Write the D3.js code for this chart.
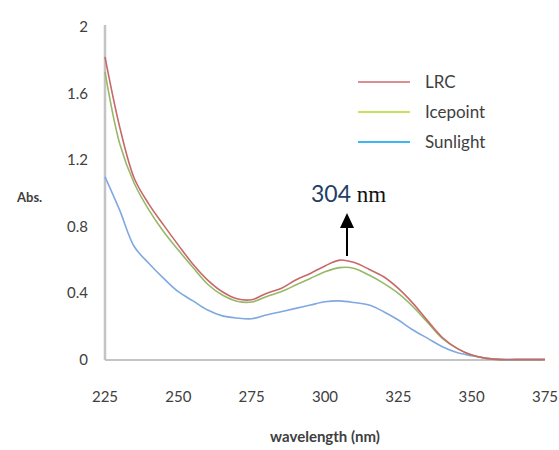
<!DOCTYPE html>
<html>
<head>
<meta charset="utf-8">
<script src="https://cdn.jsdelivr.net/npm/d3@7"></script>
<style>
  body { margin: 0; background: #fff; }
  text { font-family: Lato, "Open Sans", sans-serif; fill: #404040; }
</style>
</head>
<body>
<svg id="chart" width="559" height="450"></svg>
<script>
// wavelength grid (nm) and absorbance readings for each sample
const wavelengths = [225, 230, 235, 240, 245, 250, 255, 260, 265, 270, 275, 280, 285, 290, 295, 300,
  305, 310, 315, 320, 325, 330, 335, 340, 345, 350, 355, 360, 365, 370, 375];
const lrc = [1.82, 1.40, 1.09, 0.935, 0.81, 0.69, 0.575, 0.48, 0.41, 0.368, 0.362, 0.40, 0.43, 0.48, 0.52, 0.565,
  0.60, 0.585, 0.545, 0.50, 0.43, 0.34, 0.235, 0.135, 0.07, 0.03, 0.01, 0.002, 0.002, 0.002, 0.002];
const icepoint = [1.73, 1.30, 1.06, 0.90, 0.77, 0.66, 0.555, 0.455, 0.39, 0.353, 0.348, 0.38, 0.41, 0.45, 0.49, 0.53,
  0.555, 0.55, 0.51, 0.46, 0.40, 0.32, 0.225, 0.13, 0.07, 0.03, 0.01, 0.002, 0.002, 0.002, 0.002];
const sunlight = [1.10, 0.90, 0.68, 0.58, 0.49, 0.41, 0.355, 0.30, 0.265, 0.252, 0.248, 0.27, 0.29, 0.31, 0.33, 0.35,
  0.355, 0.345, 0.33, 0.29, 0.24, 0.18, 0.13, 0.08, 0.045, 0.025, 0.01, 0.004, 0.004, 0.004, 0.004];

const seriesNames = ["LRC", "Icepoint", "Sunlight"];
const lineColors = ["#c8686b", "#97b866", "#7fa9e0"];
const legendColors = ["#dc8f93", "#c3e35c", "#3fb6f2"];
const xTicks = [225, 250, 275, 300, 325, 350, 375];
const yTicks = [0, 0.4, 0.8, 1.2, 1.6, 2];
const peakLabel = 304;

const series = [lrc, icepoint, sunlight].map((vals, i) => ({
  name: seriesNames[i],
  points: vals.map((v, j) => ({ wl: wavelengths[j], v: v }))
}));

const svg = d3.select("#chart");

const x = d3.scaleLinear().domain([225, 375]).range([105, 545]);
const y = d3.scaleLinear().domain([0, 2]).range([360, 27]);

// axes: plain gray lines, no tick marks
svg.append("line")
  .attr("x1", x(225)).attr("x2", x(225))
  .attr("y1", y(2) - 2).attr("y2", y(0))
  .attr("stroke", "#c4c4c4").attr("stroke-width", 2.5);
svg.append("line")
  .attr("x1", x(225)).attr("x2", x(375) - 2)
  .attr("y1", y(0)).attr("y2", y(0))
  .attr("stroke", "#c4c4c4").attr("stroke-width", 2);

svg.append("g")
  .selectAll("text")
  .data(yTicks)
  .join("text")
    .attr("x", 88)
    .attr("y", d => y(d) + 5)
    .attr("text-anchor", "end")
    .attr("font-size", 15)
    .text(d => d);

svg.append("g")
  .selectAll("text")
  .data(xTicks)
  .join("text")
    .attr("x", d => x(d))
    .attr("y", 402)
    .attr("text-anchor", "middle")
    .attr("font-size", 15)
    .text(d => d);

svg.append("text")
  .attr("x", 17).attr("y", 202)
  .attr("font-size", 13).attr("font-weight", "bold")
  .attr("fill", "#333")
  .text("Abs.");

svg.append("text")
  .attr("x", 325).attr("y", 442)
  .attr("text-anchor", "middle")
  .attr("font-size", 15).attr("font-weight", "bold")
  .attr("fill", "#333")
  .text("wavelength (nm)");

const line = d3.line()
  .x(d => x(d.wl))
  .y(d => y(d.v))
  .curve(d3.curveCatmullRom.alpha(0.5));

// blue first so red sits on top like the reference
svg.append("g")
  .selectAll("path")
  .data(series.slice().reverse())
  .join("path")
    .attr("fill", "none")
    .attr("stroke", d => lineColors[seriesNames.indexOf(d.name)])
    .attr("stroke-width", 1.6)
    .attr("d", d => line(d.points));

// legend
const legend = svg.append("g");
seriesNames.forEach((name, i) => {
  const ly = 82 + i * 30;
  legend.append("line")
    .attr("x1", 358).attr("x2", 410)
    .attr("y1", ly).attr("y2", ly)
    .attr("stroke", legendColors[i]).attr("stroke-width", 2);
  legend.append("text")
    .attr("x", 425).attr("y", ly + 6)
    .attr("font-size", 17)
    .text(name);
});

// peak annotation: arrow pointing up at the LRC maximum
const ax = x(307.5);
svg.append("line")
  .attr("x1", ax).attr("x2", ax)
  .attr("y1", 256).attr("y2", 226)
  .attr("stroke", "#000").attr("stroke-width", 2);
svg.append("path")
  .attr("d", `M${ax - 7},228 L${ax},213 L${ax + 7},228 Z`)
  .attr("fill", "#000");

const note = svg.append("text")
  .attr("x", 311).attr("y", 202)
  .attr("font-size", 23);
note.append("tspan")
  .attr("font-family", "Lato, sans-serif")
  .attr("fill", "#1f3f66")
  .text(peakLabel);
note.append("tspan")
  .attr("font-family", "'Liberation Serif', 'DejaVu Serif', serif")
  .attr("fill", "#111")
  .text(" nm");
</script>
</body>
</html>
